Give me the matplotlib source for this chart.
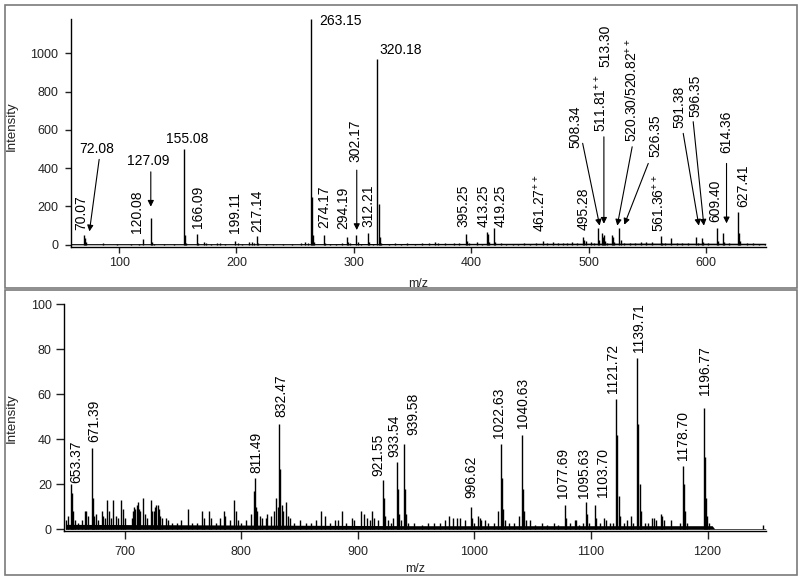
import matplotlib
matplotlib.use("Agg")
import matplotlib.pyplot as plt
from matplotlib.patches import Rectangle

plt.rcParams["font.family"] = "Liberation Sans"
plt.rcParams["mathtext.fontset"] = "custom"
plt.rcParams["mathtext.rm"] = "Liberation Sans"
plt.rcParams["mathtext.default"] = "regular"

# ---- top spectrum, m/z 60-650 ----
top_mz = [70.07, 71.0, 72.08, 86.1, 98, 110, 117,
          120.08, 127.09, 128.1, 130.1, 138, 147,
          155.08, 156.08, 157.1,
          166.09, 167.1, 172, 174, 178, 183, 186, 190,
          199.11, 201, 205, 211, 213, 215, 217.14, 218.1,
          225, 231, 240, 247, 255, 258, 261,
          263.15, 264.15, 265.15, 266.1,
          274.17, 275.2, 280, 285, 290,
          294.19, 295.2, 297,
          302.17, 303.2, 306,
          312.21, 313.2, 316,
          320.18, 321.18, 322.2, 323.2,
          330, 335, 340, 345, 352, 358, 364, 369, 372, 378, 385, 390,
          395.25, 396.3, 398,
          405, 409, 413.25, 414.25, 415.3,
          419.25, 420.3, 425, 430, 436, 440, 445, 450, 455,
          461.27, 465, 470, 474, 478, 482, 486, 490,
          495.28, 496.3, 498, 502, 505,
          508.34, 509.3, 511.81, 512.3, 513.3, 514.3, 516,
          520.3, 520.82, 522,
          526.35, 527.4, 530, 535, 540, 545, 549, 554,
          561.36, 562.4, 565, 570, 575, 580, 585,
          591.38, 593, 596.35, 597.4, 602,
          609.4, 610.4, 614.36, 615.4, 620,
          627.41, 628.41, 629.4, 635, 640, 645, 650]
top_int = [50, 38, 12, 8, 4, 5, 4,
           30, 140, 15, 6, 4, 4,
           500, 50, 10,
           55, 8, 12, 10, 6, 8, 7, 5,
           20, 8, 5, 15, 12, 10, 45, 10,
           5, 5, 5, 6, 10, 14, 8,
           1178, 250, 50, 15,
           50, 10, 6, 6, 8,
           40, 12, 8,
           50, 15, 6,
           60, 15, 6,
           970, 215, 40, 10,
           6, 10, 6, 8, 6, 8, 7, 14, 8, 7, 10, 8,
           56, 20, 8,
           12, 6, 65, 55, 12,
           90, 15, 8, 6, 6, 6, 7, 6, 7,
           20, 10, 12, 8, 10, 9, 12, 10,
           40, 25, 20, 12, 8,
           86, 25, 60, 40, 50, 20, 10,
           49, 40, 12,
           86, 25, 8, 8, 10, 15, 12, 15,
           45, 10, 10, 35, 8, 10, 10,
           40, 10, 38, 15, 8,
           88, 20, 60, 12, 8,
           170, 60, 20, 8, 8, 6, 5]
top_base_mz = [59, 150, 250, 350, 450, 550, 651]
top_base_int = [6, 6, 6, 7, 8, 9, 8]

# ---- bottom spectrum, m/z 650-1250 ----
bot_mz = [649.5, 651, 653.37, 654.4, 655.4, 657, 660, 663,
          666, 667, 668, 671.39, 672.4, 673.4, 675, 677, 680, 681, 683,
          685, 686, 688, 690, 692, 694, 697, 698, 700,
          706, 707, 708, 709, 710, 711, 712, 713, 715.5, 717, 719, 722, 723,
          725, 726, 727, 728, 729, 730, 732, 735, 737, 740, 745, 748, 754,
          758, 762, 766, 768, 772, 774, 778, 782, 785, 786, 790, 794, 795, 797,
          800, 804, 808, 810.5, 811.49, 812.5, 813.5, 816, 818, 821, 822,
          825, 828, 830, 831, 832.47, 833.5, 834.5, 836, 838.5, 840, 842,
          845, 850, 855, 860, 864, 868, 872, 876, 880, 883, 886, 890, 895,
          897, 903, 905, 908, 910, 912, 914, 917, 921.55, 922.5, 923.5,
          926, 928, 930, 933.54, 934.5, 935.5, 937, 939.58, 940.6, 941.6, 943,
          948, 955, 960, 965, 970, 975, 978, 982, 985, 988, 992,
          996.62, 997.6, 1000, 1003, 1004.5, 1006, 1009, 1012, 1017,
          1020.5, 1022.63, 1023.6, 1024.6, 1026, 1030, 1034, 1038,
          1040.63, 1041.6, 1042.6, 1044, 1048, 1052, 1058, 1062, 1068, 1072,
          1077.69, 1078.7, 1082, 1086, 1087.5, 1090, 1093, 1095.63, 1096.6,
          1098, 1103.7, 1104.7, 1108, 1111, 1113, 1116, 1119,
          1121.72, 1122.72, 1123.7, 1124.7, 1128, 1131, 1134, 1136,
          1139.71, 1140.71, 1141.7, 1142.7, 1146, 1149, 1152, 1154, 1156,
          1160, 1161, 1163, 1169, 1176, 1178.7, 1179.7, 1180.7, 1182,
          1196.77, 1197.77, 1198.8, 1199.8, 1201, 1248]
bot_int = [4, 6, 20, 16, 8, 4, 3, 4,
           8, 8, 6, 36, 14, 6, 7, 4, 8, 6, 5,
           13, 8, 5, 13, 6, 5, 13, 9, 5,
           5, 8, 10, 9, 11, 12, 9, 8, 14, 7, 5, 13, 8,
           8, 10, 11, 11, 9, 6, 5, 5, 4, 3, 3, 4, 9,
           3, 3, 8, 5, 8, 5, 3, 5, 8, 6, 4, 13, 8, 4,
           3, 4, 7, 17, 23, 10, 8, 6, 5, 5, 7,
           6, 8, 14, 10, 47, 27, 11, 8, 12, 6, 5,
           3, 4, 3, 3, 4, 8, 6, 3, 4, 4, 8, 3, 5,
           4, 8, 7, 5, 4, 8, 5, 4, 22, 14, 6,
           4, 3, 5, 30, 18, 7, 4, 38, 18, 7, 3,
           3, 2, 3, 3, 3, 4, 6, 5, 5, 5, 4,
           10, 5, 3, 6, 5, 4, 4, 3, 3,
           8, 38, 23, 9, 4, 3, 3, 6,
           42, 18, 8, 4, 4, 2, 3, 2, 3, 2,
           11, 5, 3, 4, 4, 2, 3, 12, 7,
           3, 11, 5, 3, 5, 4, 3, 3,
           58, 42, 15, 6, 3, 4, 6, 3,
           76, 47, 20, 8, 3, 3, 5, 5, 4,
           7, 6, 4, 4, 3, 28, 20, 8, 3,
           54, 32, 14, 6, 3, 2]
bot_base_mz = [649, 750, 850, 950, 1050, 1150, 1204, 1206, 1250]
bot_base_int = [2.2, 2, 1.8, 1.6, 1.6, 1.6, 1.6, 0.3, 0.3]

# label text, x, y (bottom of text), rotation
top_labels = [
    ("70.07", 67.6, 77, 90), ("120.08", 115.1, 60, 90),
    ("166.09", 167.0, 86, 90), ("199.11", 198.8, 60, 90),
    ("217.14", 217.3, 68, 90), ("274.17", 274.9, 86, 90),
    ("294.19", 291.1, 80, 90), ("302.17", 301.0, 434, 90),
    ("312.21", 312.4, 94, 90), ("395.25", 393.3, 94, 90),
    ("413.25", 410.3, 94, 90), ("419.25", 425.4, 94, 90),
    ("461.27$^{++}$", 458.5, 68, 90), ("495.28", 495.5, 77, 90),
    ("508.34", 489.0, 504, 90), ("511.81$^{++}$", 510.2, 590, 90),
    ("513.30", 514.6, 930, 90), ("520.30/520.82$^{++}$", 536.6, 538, 90),
    ("526.35", 556.6, 460, 90), ("561.36$^{++}$", 559.3, 68, 90),
    ("591.38", 577.3, 608, 90), ("596.35", 591.5, 669, 90),
    ("609.40", 607.7, 120, 90), ("614.36", 617.6, 478, 90),
    ("627.41", 631.8, 199, 90),
]
top_flat_labels = [
    ("72.08", 81.0, 479, "center"), ("127.09", 124.4, 417, "center"),
    ("155.08", 158.2, 530, "center"), ("263.15", 270.6, 1148, "left"),
    ("320.18", 321.7, 997, "left"),
]
# arrows: (x from, y from, x to, y to)
top_arrows = [
    (83.0, 446, 74.7, 70), (127.0, 381, 127.0, 199),
    (302.5, 390, 302.5, 77), (495.0, 530, 509.5, 100),
    (513.1, 564, 513.1, 110), (537.2, 512, 524.5, 100),
    (550.9, 425, 530.5, 105), (580.7, 582, 594.0, 100),
    (589.2, 643, 598.3, 100), (617.6, 425, 617.6, 112),
]
bot_labels = [
    ("653.37", 658.2, 20.4), ("671.39", 673.9, 38.9), ("811.49", 812.6, 25.2),
    ("832.47", 834.6, 50.0), ("921.55", 917.5, 23.7), ("933.54", 931.2, 32.3),
    ("939.58", 947.5, 41.9), ("996.62", 997.6, 13.8), ("1022.63", 1021.3, 40.4),
    ("1040.63", 1041.3, 44.9), ("1077.69", 1076.2, 13.8), ("1095.63", 1094.2, 13.8),
    ("1103.70", 1110.5, 14.5), ("1121.72", 1119.0, 60.4), ("1139.71", 1141.3, 78.9),
    ("1178.70", 1178.6, 30.8), ("1196.77", 1197.7, 59.7),
]

fig = plt.figure(figsize=(8, 5.81), dpi=100)
fig.patch.set_facecolor("white")

# gray frames round each panel
for y0, h in [(0.5043, 0.4876), (0.0095, 0.4914)]:
    fig.add_artist(Rectangle((0.00625, y0), 0.99, h, transform=fig.transFigure,
                             fill=False, ec="#7a7a7a", lw=1.2))

ax1 = fig.add_axes([0.08875, 0.5754, 0.8684, 0.3914])
ax2 = fig.add_axes([0.0804, 0.0855, 0.8768, 0.3907])


def style_axis(ax, ticklen):
    for s in ["top", "right"]:
        ax.spines[s].set_visible(False)
    for s in ["left", "bottom"]:
        ax.spines[s].set_linewidth(1.0)
    ax.tick_params(direction="out", length=ticklen, width=1.0, labelsize=9, colors="#222222")
    ax.set_ylabel("Intensity", fontsize=9.5, color="#222222")
    ax.set_xlabel("m/z", fontsize=9, color="#222222")


ax1.fill_between(top_base_mz, 0, top_base_int, color="k", lw=0)
ax1.vlines(top_mz, 0, top_int, colors="k", lw=1.0)
ax1.set_xlim(59, 651)
ax1.set_ylim(-10, 1178)
ax1.set_xticks([100, 200, 300, 400, 500, 600])
ax1.set_yticks([0, 200, 400, 600, 800, 1000])
style_axis(ax1, 4)
ax1.tick_params(axis="y", pad=5)
ax1.yaxis.set_label_coords(-0.076, 0.53)
ax1.xaxis.set_label_coords(0.5, -0.138)

for txt, x, y, rot in top_labels:
    ax1.text(x, y, txt, rotation=rot, ha="center", va="bottom", fontsize=10)
for txt, x, y, ha in top_flat_labels:
    ax1.text(x, y, txt, ha=ha, va="baseline", fontsize=10)
for x0, y0, x1, y1 in top_arrows:
    ax1.annotate("", xy=(x1, y1), xytext=(x0, y0),
                 arrowprops=dict(arrowstyle="-|>", color="k", lw=0.8,
                                 mutation_scale=9, shrinkA=0, shrinkB=0))

ax2.fill_between(bot_base_mz, 0, bot_base_int, color="k", lw=0)
ax2.vlines(bot_mz, 0, bot_int, colors="k", lw=1.0)
ax2.set_xlim(648, 1250)
ax2.set_ylim(-0.9, 100)
ax2.set_xticks([700, 800, 900, 1000, 1100, 1200])
ax2.set_yticks([0, 20, 40, 60, 80, 100])
style_axis(ax2, 5.5)
ax2.tick_params(axis="x", pad=5)
ax2.yaxis.set_label_coords(-0.066, 0.5)
ax2.xaxis.set_label_coords(0.5, -0.14)

for txt, x, y in bot_labels:
    ax2.text(x, y, txt, rotation=90, ha="center", va="bottom", fontsize=10)

fig.savefig("out.png", dpi=100, facecolor="white")
